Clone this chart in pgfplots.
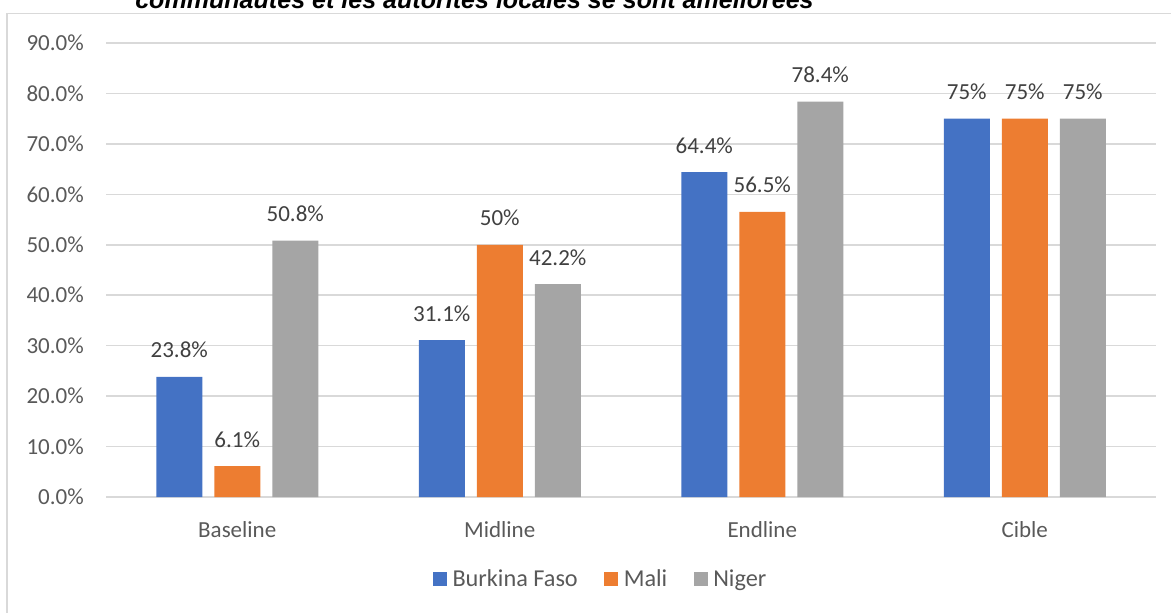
\documentclass[border=0pt]{standalone}
\usepackage{pgfplots}
\pgfplotsset{compat=1.18}
\usepackage{pgfplotstable}
\usepackage{fontspec}
\setmainfont{Carlito}
\newfontfamily\titlefont{Liberation Sans}
\definecolor{cblue}{HTML}{4472C4}
\definecolor{corange}{HTML}{ED7D31}
\definecolor{cgray}{HTML}{A5A5A5}
\definecolor{gridc}{HTML}{D9D9D9}
\definecolor{tickc}{HTML}{595959}
\definecolor{labc}{HTML}{404040}
\pgfplotstableread{
x y lab
0 23.8 23.8\%
1 31.1 31.1\%
2 64.4 64.4\%
3 75 75\%
}\bf
\pgfplotstableread{
x y lab
0 6.1 6.1\%
1 50 50\%
2 56.5 56.5\%
3 75 75\%
}\ml
\pgfplotstableread{
x y lab
0 50.8 50.8\%
1 42.2 42.2\%
2 78.4 78.4\%
3 75 75\%
}\ng
\begin{document}
\begin{tikzpicture}[x=0.75pt,y=-0.75pt]
\useasboundingbox (0,0) rectangle (1171,613);
\clip (0,0) rectangle (1171,613);
\node[anchor=base west, inner sep=0pt, font=\titlefont\bfseries\itshape\fontsize{18.8}{20}\selectfont] at (135,9) {communautés et les autorités locales se sont améliorées};
\draw[gridc, line width=1.2pt] (7,620) -- (7,13.5) -- (1180,13.5);
\begin{axis}[
  at={(79.5pt,-372.75pt)}, anchor=south west,
  scale only axis, width=787.5pt, height=340.5pt,
  xmin=-0.5, xmax=3.5, ymin=0, ymax=90,
  ybar=9pt, bar width=34.5pt,
  axis line style={draw=none},
  major tick style={draw=none},
  ymajorgrids, grid style={gridc, line width=1.2pt},
  ytick={0,10,...,90},
  yticklabel={\pgfmathprintnumber[fixed,fixed zerofill,precision=1]{\tick}\%},
  /pgf/number format/assume math mode=true,
  yticklabel style={anchor=east, inner sep=0pt, xshift=-16.5pt, text=tickc, font=\fontsize{17.25}{20}\selectfont},
  xtick={0,1,2,3},
  xticklabels={Baseline,Midline,Endline,Cible},
  xticklabel style={anchor=north, inner sep=0pt, yshift=-14.25pt, text=tickc, font=\fontsize{17.25}{20}\selectfont},
  nodes near coords={\pgfplotspointmeta},
  point meta=explicit symbolic,
  every node near coord/.append style={anchor=base, inner sep=0pt, yshift=14.25pt, text=labc, font=\fontsize{17.25}{20}\selectfont},
  legend style={at={(0.4715,-0.1806)}, anchor=center, draw=none, fill=none,
    legend columns=-1, font=\fontsize{18.2}{20}\selectfont, text=tickc,
    /tikz/every even column/.append style={column sep=18pt}},
  sq/.style={legend image code/.code={\fill[##1] (0pt,-5.25pt) rectangle (10.5pt,5.25pt);}},
]
\addplot[fill=cblue, draw=none, sq] table[x=x,y=y,meta=lab] {\bf};
\addplot[fill=corange, draw=none, sq] table[x=x,y=y,meta=lab] {\ml};
\addplot[fill=cgray, draw=none, sq] table[x=x,y=y,meta=lab] {\ng};
\legend{\hspace{2pt}Burkina Faso,\hspace{2pt}Mali,\hspace{2pt}Niger}
\end{axis}
\end{tikzpicture}
\end{document}
